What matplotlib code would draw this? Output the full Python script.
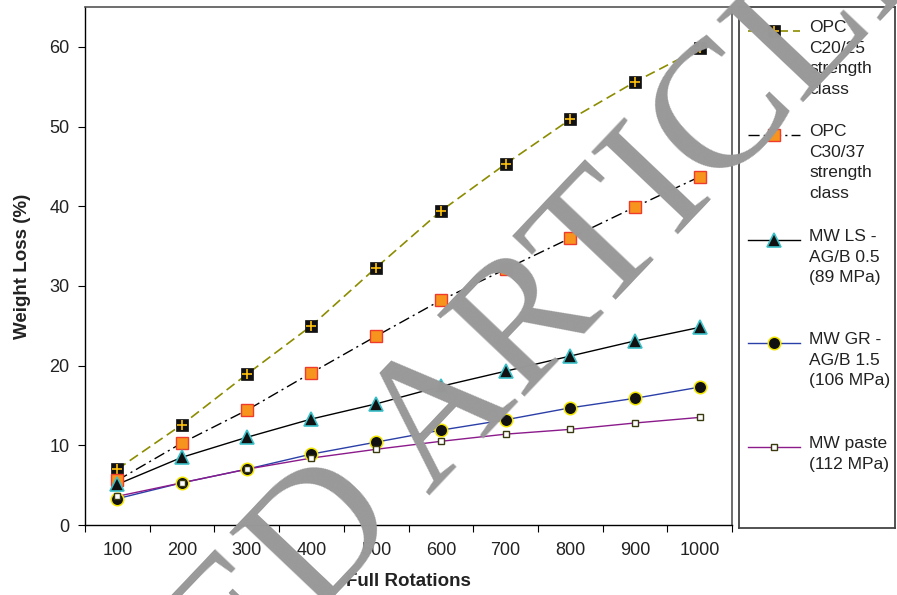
import matplotlib
matplotlib.use('Agg')
import matplotlib.pyplot as plt

# data
rotations = [100, 200, 300, 400, 500, 600, 700, 800, 900, 1000]
opc_c20 = [7.0, 12.6, 18.9, 25.0, 32.3, 39.4, 45.3, 50.9, 55.6, 59.8]
opc_c30 = [5.6, 10.3, 14.4, 19.1, 23.7, 28.2, 32.1, 36.0, 39.9, 43.7]
mw_ls = [5.1, 8.5, 11.0, 13.3, 15.2, 17.4, 19.3, 21.2, 23.1, 24.8]
mw_gr = [3.3, 5.3, 7.0, 8.9, 10.4, 11.9, 13.2, 14.7, 15.9, 17.3]
mw_paste = [3.6, 5.3, 7.0, 8.4, 9.5, 10.5, 11.4, 12.0, 12.8, 13.5]

labels = ['OPC\nC20/25\nstrength\nclass',
          'OPC\nC30/37\nstrength\nclass',
          'MW LS -\nAG/B 0.5\n(89 MPa)',
          'MW GR -\nAG/B 1.5\n(106 MPa)',
          'MW paste\n(112 MPa)']

plt.rcParams['font.family'] = ['Liberation Sans', 'DejaVu Sans']

W, H = 897, 595
fig = plt.figure(figsize=(W / 100, H / 100), dpi=100)
ax = fig.add_axes([85 / W, 1 - 525 / H, 647 / W, 518 / H])

x = list(range(1, len(rotations) + 1))

line_styles = [
    dict(color='#8C8C00', lw=1.2, ls=(0, (6, 3))),
    dict(color='black', lw=1.0, ls=(0, (8, 3, 1.5, 3))),
    dict(color='black', lw=1.0, ls='-'),
    dict(color='#2B3FA8', lw=1.0, ls='-'),
    dict(color='#8B1A8B', lw=1.0, ls='-'),
]
marker_styles = [
    [dict(marker='s', ms=8.8, mfc='#111111', mec='#111111', mew=0.5),
     dict(marker='+', ms=6.5, mec='#FFC20E', mew=1.2)],
    [dict(marker='s', ms=8, mfc='#F7941D', mec='#EE3B2B', mew=1.0)],
    [dict(marker='^', ms=9.5, mfc='#111111', mec='#3CC0C8', mew=1.2)],
    [dict(marker='o', ms=9, mfc='#111111', mec='#F2E600', mew=1.1)],
    [dict(marker='s', ms=5, mfc='white', mec='#3A3A10', mew=1.0)],
]
series = [opc_c20, opc_c30, mw_ls, mw_gr, mw_paste]

for ys, lst, mks in zip(series, line_styles, marker_styles):
    ax.plot(x, ys, **lst, zorder=2)
    for mk in mks:
        ax.plot(x, ys, ls='none', **mk, zorder=3)

ax.set_xlim(0.5, len(rotations) + 0.5)
ax.set_ylim(0, 65)
ax.set_yticks(range(0, 61, 10))
ax.set_xticks([i + 0.5 for i in range(0, len(rotations) + 1)])
ax.set_xticklabels([])
ax.set_xticks(x, minor=True)
ax.set_xticklabels([str(r) for r in rotations], minor=True)
ax.tick_params(axis='x', which='minor', length=0, pad=12, labelsize=13, colors='#222222')
ax.tick_params(axis='x', which='major', length=5, direction='out')
ax.tick_params(axis='y', length=5, direction='out', pad=6, labelsize=13, colors='#222222')
ax.tick_params(axis='both', which='both', color='black')
for side in ['top', 'right']:
    ax.spines[side].set_color('#555555')
    ax.spines[side].set_linewidth(1.2)
for side in ['left', 'bottom']:
    ax.spines[side].set_color('black')
    ax.spines[side].set_linewidth(1.0)

ax.set_xlabel('Full Rotations', fontsize=13.5, fontweight='bold', labelpad=10, color='#222222')
ax.set_ylabel('Weight Loss (%)', fontsize=13.5, fontweight='bold', labelpad=13, color='#222222')

# legend box built by hand (handles aligned with the first text line)
lax = fig.add_axes([739 / W, 1 - 528 / H, 156 / W, 521 / H])
lax.set_xlim(739, 895)
lax.set_ylim(528, 7)
lax.set_xticks([])
lax.set_yticks([])
for s in lax.spines.values():
    s.set_color('#444444')
    s.set_linewidth(1.3)
entry_y = [31, 135, 240, 343, 447]
for yy, lab, lst, mks in zip(entry_y, labels, line_styles, marker_styles):
    lax.plot([748, 800], [yy, yy], **lst)
    for mk in mks:
        lax.plot([774], [yy], ls='none', **mk)
    lax.text(809, yy - 11, lab, fontsize=12.5, va='top', ha='left',
             linespacing=1.47, color='#222222')

# watermark
fig.text(0.343, -0.050, 'RETRACTED ARTICLE', rotation=46.5, rotation_mode='anchor',
         ha='center', va='baseline', fontsize=132, family='Liberation Serif',
         color='#999999', zorder=10)

fig.savefig('out.png', dpi=100)
